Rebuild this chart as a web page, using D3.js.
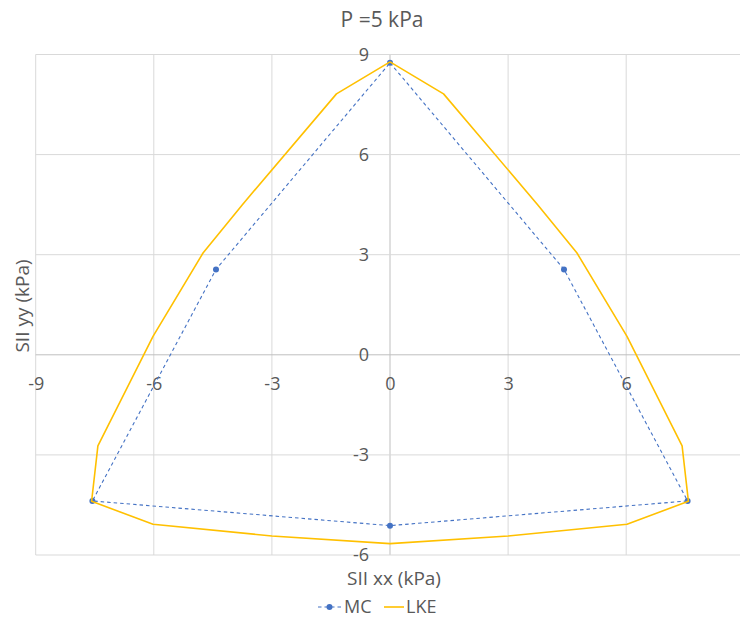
<!DOCTYPE html>
<html>
<head>
<meta charset="utf-8">
<script src="https://cdn.jsdelivr.net/npm/d3@7"></script>
<style>
  html, body { margin: 0; padding: 0; background: #fff; }
  svg { display: block; font-family: "Open Sans", "Noto Sans", sans-serif; }
</style>
</head>
<body>
<svg id="chart" width="740" height="621"></svg>
<script>
// Mohr-Coulomb section in the deviatoric plane
const mcX = [0, 4.42, 7.56, 0, -7.56, -4.42, 0];
const mcY = [8.75, 2.56, -4.38, -5.12, -4.38, 2.56, 8.75];

// Lade-Kim envelope section
const lkeX = [0, 1.36, 3.75, 4.75, 6.02, 7.42, 7.58, 6.02, 3.0, 0, -3.0, -6.02, -7.58, -7.42, -6.02, -4.75, -3.75, -1.36, 0];
const lkeY = [8.78, 7.82, 4.5, 3.05, 0.55, -2.73, -4.39, -5.08, -5.43, -5.66, -5.43, -5.08, -4.39, -2.73, 0.55, 3.05, 4.5, 7.82, 8.78];

const xTicks = [-9, -6, -3, 0, 3, 6, 9];
const yTicks = [-6, -3, 0, 3, 6, 9];

const chartTitle = "P =5 kPa";
const xTitle = "SII xx (kPa)";
const yTitle = "SII yy (kPa)";
const seriesNames = ["MC", "LKE"];
const seriesColors = ["#4472C4", "#FFC000"];

const svg = d3.select("#chart");
const x = d3.scaleLinear().domain([-9, 9]).range([35.7, 744.3]);
const y = d3.scaleLinear().domain([-6, 9]).range([555, 54.5]);
const textColor = "#595959";
const fmt = d => String(d); // plain hyphen-minus labels

// grid
const grid = svg.append("g");
grid.selectAll("line.v").data(xTicks).join("line")
  .attr("x1", d => x(d)).attr("x2", d => x(d))
  .attr("y1", y(9)).attr("y2", y(-6))
  .attr("stroke", d => d === 0 ? "#bfbfbf" : "#d9d9d9").attr("stroke-width", 1);
grid.selectAll("line.h").data(yTicks).join("line")
  .attr("y1", d => y(d)).attr("y2", d => y(d))
  .attr("x1", x(-9)).attr("x2", x(9))
  .attr("stroke", d => d === 0 ? "#bfbfbf" : "#d9d9d9").attr("stroke-width", 1);

// axes crossing at the origin, tick labels beside them
const xAxis = d3.axisBottom(x).tickValues(xTicks).tickFormat(fmt).tickSize(0).tickPadding(22);
const gx = svg.append("g").attr("transform", `translate(0,${y(0)})`).call(xAxis);
gx.select(".domain").remove();
gx.selectAll("text").attr("fill", textColor).style("font-size", "18px")
  .style("font-family", "'Open Sans', sans-serif");

const yAxis = d3.axisLeft(y).tickValues(yTicks).tickFormat(fmt).tickSize(0).tickPadding(21);
const gy = svg.append("g").attr("transform", `translate(${x(0)},0)`).call(yAxis);
gy.select(".domain").remove();
gy.selectAll("text").attr("fill", textColor).style("font-size", "18px")
  .style("font-family", "'Open Sans', sans-serif");

// MC series: dashed line with markers
const mcData = mcX.map((d, i) => [d, mcY[i]]);
const lkeData = lkeX.map((d, i) => [d, lkeY[i]]);
const line = d3.line().x(d => x(d[0])).y(d => y(d[1]));

svg.append("path").datum(mcData)
  .attr("d", line).attr("fill", "none")
  .attr("stroke", seriesColors[0]).attr("stroke-width", 1.1)
  .attr("stroke-dasharray", "3.5,3");
svg.selectAll("circle.mc").data(mcData.slice(0, -1)).join("circle")
  .attr("cx", d => x(d[0])).attr("cy", d => y(d[1])).attr("r", 3)
  .attr("fill", seriesColors[0]);

// LKE series: solid line
svg.append("path").datum(lkeData)
  .attr("d", line).attr("fill", "none")
  .attr("stroke", seriesColors[1]).attr("stroke-width", 1.6)
  .attr("stroke-linejoin", "round");

// titles
svg.append("text").attr("x", 382).attr("y", 27).attr("text-anchor", "middle")
  .attr("fill", textColor).style("font-size", "21px").text(chartTitle);
svg.append("text").attr("x", 394).attr("y", 585).attr("text-anchor", "middle")
  .attr("fill", textColor).style("font-size", "19px").text(xTitle);
svg.append("text").attr("transform", `translate(29,306) rotate(-90)`)
  .attr("text-anchor", "middle")
  .attr("fill", textColor).style("font-size", "19px").text(yTitle);

// legend
const lg = svg.append("g").attr("transform", "translate(0,607)");
lg.append("line").attr("x1", 318).attr("x2", 341).attr("y1", 0).attr("y2", 0)
  .attr("stroke", seriesColors[0]).attr("stroke-width", 1.1).attr("stroke-dasharray", "3.5,3");
lg.append("circle").attr("cx", 329.5).attr("cy", 0).attr("r", 3).attr("fill", seriesColors[0]);
lg.append("text").attr("x", 344).attr("y", 0).attr("dy", "0.35em").attr("fill", textColor)
  .style("font-size", "18px").text(seriesNames[0]);
lg.append("line").attr("x1", 384).attr("x2", 404).attr("y1", 0).attr("y2", 0)
  .attr("stroke", seriesColors[1]).attr("stroke-width", 1.6);
lg.append("text").attr("x", 406).attr("y", 0).attr("dy", "0.35em").attr("fill", textColor)
  .style("font-size", "18px").text(seriesNames[1]);
</script>
</body>
</html>
